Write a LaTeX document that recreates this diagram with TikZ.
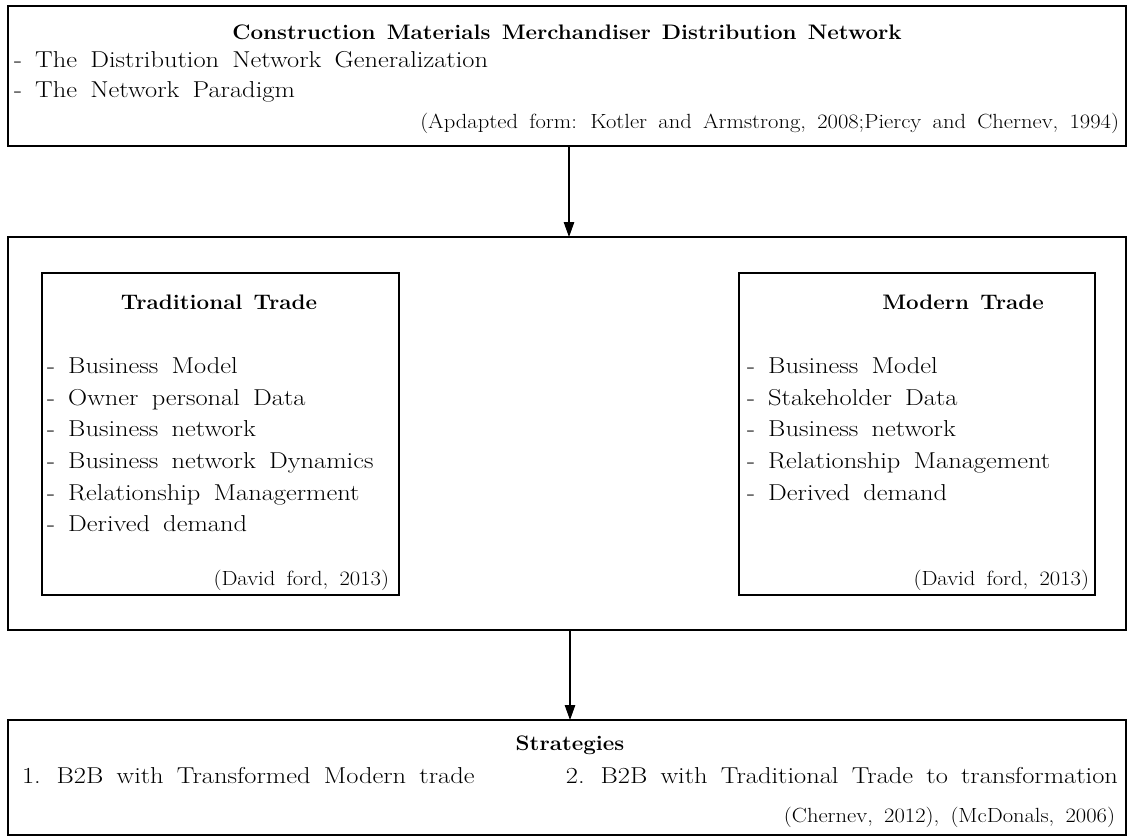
\documentclass[tikz,border=0pt]{standalone}
\usepackage{graphicx}
\usetikzlibrary{arrows.meta}
\newcommand{\regw}[1]{\scalebox{1.15}[1]{#1}}
\newcommand{\boldw}[1]{\scalebox{1.065}[1]{#1}}
\newcommand{\citew}[1]{\scalebox{1.1}[1]{#1}}
\begin{document}
\begin{tikzpicture}[x=1pt,y=-1pt,
  bigbox/.style={draw, line width=1.6pt, rectangle, inner sep=0pt, outer sep=0pt, anchor=north west},
  inbox/.style={draw, line width=1.1pt, rectangle, inner sep=0pt, outer sep=0pt, anchor=north west},
  txt/.style={inner sep=0pt, outer sep=0pt, font={\fontsize{23}{27}\selectfont\spaceskip 0.5em\relax}},
  head/.style={inner sep=0pt, outer sep=0pt, font={\fontsize{21}{25}\selectfont\bfseries\spaceskip 0.5em\relax}},
  citetxt/.style={inner sep=0pt, outer sep=0pt, font={\fontsize{20.5}{24}\selectfont\spaceskip 0.5em\relax}},
  arr/.style={-{Triangle[length=15pt,width=10.5pt]}, line width=1.1pt}]
\useasboundingbox (0,0) rectangle (1127,839);

% boxes
\node[bigbox, minimum width=1118pt, minimum height=140pt] (top) at (8,6) {};
\node[bigbox, minimum width=1118pt, minimum height=393pt] (mid) at (8,237) {};
\node[inbox, minimum width=357pt, minimum height=322pt] (left) at (42,273) {};
\node[inbox, minimum width=356pt, minimum height=322pt] (right) at (739,273) {};
\node[bigbox, minimum width=1118pt, minimum height=115pt] (bot) at (8,720) {};

% top box text
\node[head, anchor=base] (title) at (567,39) {\boldw{Construction Materials Merchandiser Distribution Network}};
\node[txt, anchor=base west] (t1) at (14,67) {\regw{- The Distribution Network Generalization}};
\node[txt, anchor=base west] (t2) at (14,97) {\regw{- The Network Paradigm}};
\node[citetxt, anchor=base east] (tc) at (1119,128) {\citew{(Apdapted form: Kotler and Armstrong, 2008;Piercy and Chernev, 1994)}};

% left inner box
\node[head, anchor=base] (lh) at (219,309) {\boldw{Traditional Trade}};
\node[txt, anchor=base west] (l1) at (47,373) {\regw{- Business Model}};
\node[txt, anchor=base west] (l2) at (47,405) {\regw{- Owner personal Data}};
\node[txt, anchor=base west] (l3) at (47,436) {\regw{- Business network}};
\node[txt, anchor=base west] (l4) at (47,468) {\regw{- Business network Dynamics}};
\node[txt, anchor=base west] (l5) at (47,500) {\regw{- Relationship Managerment}};
\node[txt, anchor=base west] (l6) at (47,531) {\regw{- Derived demand}};
\node[citetxt, anchor=base east] (lc) at (389,585) {\citew{(David ford, 2013)}};

% right inner box
\node[head, anchor=base] (rh) at (963,309) {\boldw{Modern Trade}};
\node[txt, anchor=base west] (r1) at (747,373) {\regw{- Business Model}};
\node[txt, anchor=base west] (r2) at (747,405) {\regw{- Stakeholder Data}};
\node[txt, anchor=base west] (r3) at (747,436) {\regw{- Business network}};
\node[txt, anchor=base west] (r4) at (747,468) {\regw{- Relationship Management}};
\node[txt, anchor=base west] (r5) at (747,500) {\regw{- Derived demand}};
\node[citetxt, anchor=base east] (rc) at (1089,585) {\citew{(David ford, 2013)}};

% bottom box
\node[head, anchor=base] (bh) at (570,750) {\boldw{Strategies}};
\node[txt, anchor=base west] (b1) at (22,783) {\regw{1. B2B with Transformed Modern trade}};
\node[txt, anchor=base east] (b2) at (1118,783) {\regw{2. B2B with Traditional Trade to transformation}};
\node[citetxt, anchor=base east] (bc) at (1115,822) {\citew{(Chernev, 2012), (McDonals, 2006)}};

% arrows
\coordinate (a1) at (569,0);
\coordinate (a2) at (570,0);
\draw[arr] (top.south -| a1) -- (mid.north -| a1);
\draw[arr] (mid.south -| a2) -- (bot.north -| a2);
\end{tikzpicture}
\end{document}
